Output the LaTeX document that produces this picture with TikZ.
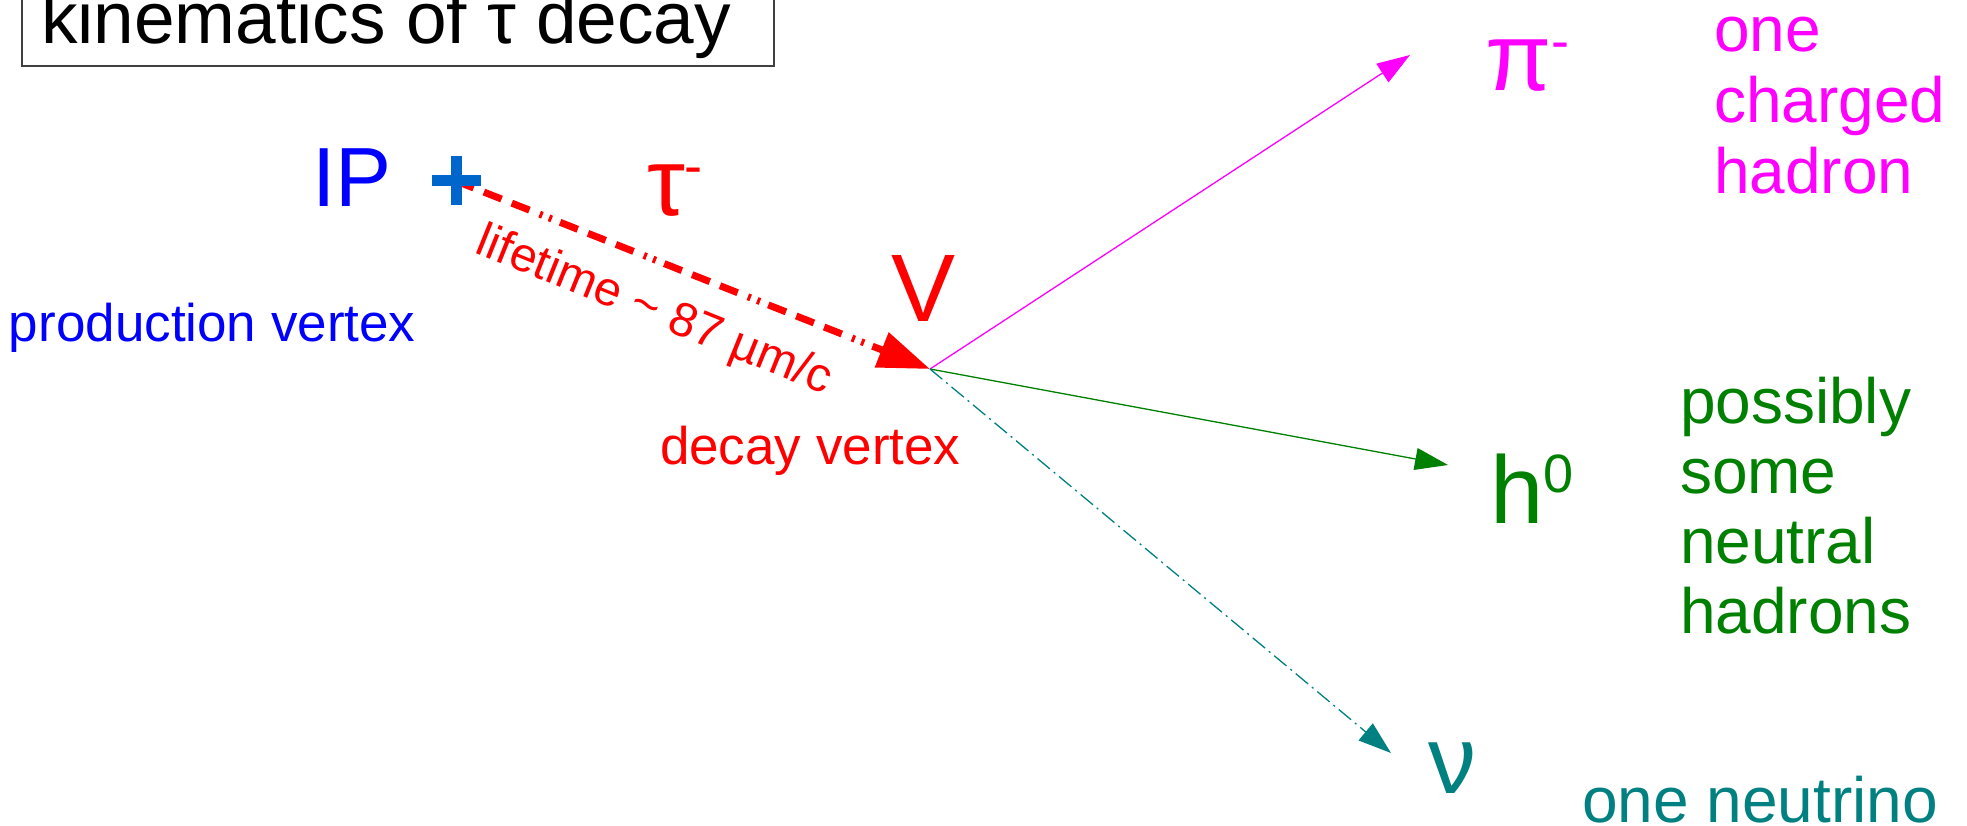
\documentclass[tikz,border=0pt]{standalone}
\usepackage{fontspec}
\setmainfont{Liberation Sans}
\usetikzlibrary{arrows.meta}
\definecolor{plusblue}{HTML}{0066CC}
\definecolor{hgreen}{HTML}{008000}
\definecolor{nuteal}{HTML}{008080}
\definecolor{mag}{RGB}{255,0,255}
\newcommand\fs[1]{\fontsize{#1}{#1}\selectfont}
\newcommand\supr[1]{\raisebox{31pt}{\fontsize{54}{54}\selectfont #1}}
\begin{document}
\begin{tikzpicture}[x=1pt,y=-1pt,
  every node/.style={inner sep=0pt, outer sep=0pt},
  big/.style={font=\fs{96}, anchor=base west},
  lbl/.style={anchor=base west, align=left},
  thin arrow/.style={line width=1.3pt, -{Triangle[length=33pt,width=22pt]}}]
\useasboundingbox (0,0) rectangle (1967,826);
% title
\draw[line width=1.5pt, black!75] (22,-40) rectangle (774,66);
\node[anchor=base west, font=\fs{73}] (title) at (41,44) {kinematics of τ decay};
% points
\coordinate (IP) at (456,181);
\coordinate (V) at (930,369);
\coordinate (pitip) at (1410,55);
\coordinate (htip) at (1448,465);
\coordinate (nutip) at (1391,753);
% tau track
\draw[red, line width=7pt, dash pattern=on 19pt off 11pt on 19pt off 11pt on 19pt off 11pt on 3pt off 7pt on 3pt off 9pt,
  -{Triangle[length=52pt,width=36pt]}] (IP) -- (V);
% decay products
\draw[mag, thin arrow] (V) -- (pitip);
\draw[hgreen, thin arrow] (V) -- (htip);
\draw[nuteal, thin arrow, dash pattern=on 16pt off 5pt on 2pt off 5pt] (V) -- (nutip);
% IP cross
\draw[plusblue, line width=11pt] (IP) ++(-24.5,0) -- ++(49,0);
\draw[plusblue, line width=11pt] (IP) ++(0,-24.5) -- ++(0,49);
% labels
\node[anchor=base west, blue, font=\fs{84}] (iplabel) at (312,207) {IP};
\node[big, red] (tau) at (647,216) {τ\supr{-}};
\node[big, red] (vlabel) at (891,321) {V};
\node[big, mag] (pi) at (1485,91) {π\supr{-}};
\node[big, hgreen] (h0) at (1490,523) {h\supr{0}};
\node[big, nuteal] (nu) at (1428,793) {ν};
\node[lbl, mag, font=\fontsize{64}{71}\selectfont] (chg) at (1714,194) {one\\charged\\hadron};
\node[lbl, hgreen, font=\fontsize{64}{70}\selectfont] (neut) at (1680,633) {possibly\\some\\neutral\\hadrons};
\node[lbl, nuteal, font=\fs{64}] (nulab) at (1582,822) {one neutrino};
\node[lbl, blue, font=\fs{53}] (prod) at (9,341) {production vertex};
\node[lbl, red, font=\fs{53}] (dec) at (660,464) {decay vertex};
\node[red, font=\fs{48}, rotate=-22] (life) at (654,312) {lifetime \textasciitilde{} 87 µm/c};
\end{tikzpicture}
\end{document}
